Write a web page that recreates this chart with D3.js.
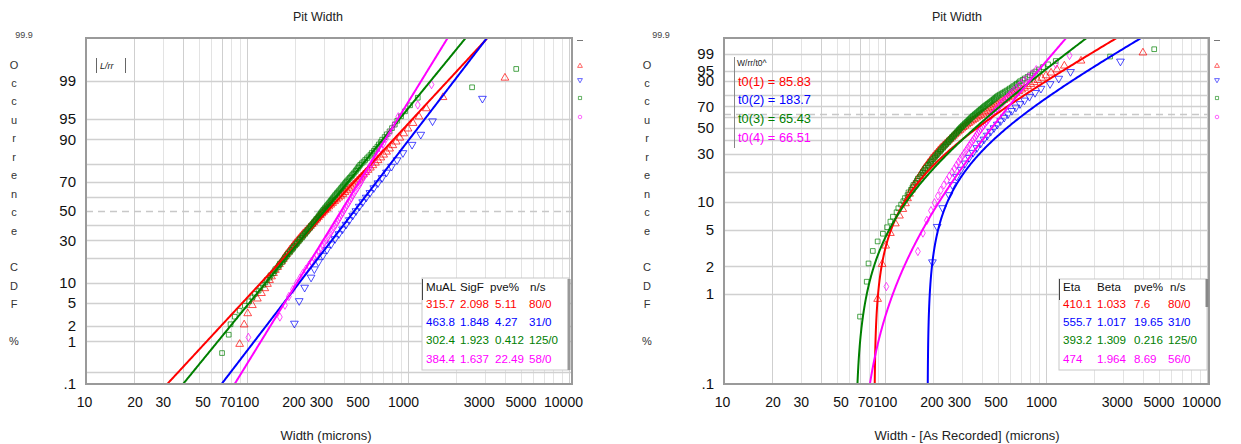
<!DOCTYPE html>
<html><head><meta charset="utf-8">
<script src="https://cdn.jsdelivr.net/npm/d3@7"></script>
<style>
html,body{margin:0;padding:0;background:#fff;}
svg{display:block;font-family:"Liberation Sans",Arial,sans-serif;}
</style></head><body>
<svg id="chart" width="1241" height="444"></svg>
<script>
// ---------------- DATA ----------------
const seriesNames = ["1", "2", "3", "4"];
// pit widths (microns)
const widthsSeries1 = [
  90, 96, 101, 108, 116, 123, 129, 134, 138, 142,
  146, 150, 155, 159, 164, 168, 172, 176, 181, 185,
  190, 194, 199, 204, 209, 214, 219, 224, 230, 236,
  242, 248, 254, 260, 266, 272, 278, 285, 292, 299,
  306, 314, 322, 331, 340, 350, 360, 371, 382, 394,
  406, 418, 431, 444, 457, 470, 484, 498, 513, 529,
  546, 564, 584, 605, 628, 652, 678, 706, 736, 769,
  805, 845, 890, 940, 1000, 1075, 1170, 1300, 1650, 4000
];
const widthsSeries2 = [
  197, 211, 228, 250, 262, 278, 296, 314, 333, 352,
  372, 392, 412, 432, 453, 475, 498, 523, 550, 580,
  613, 650, 690, 735, 790, 855, 930, 1060, 1200, 1420, 2900
];
const widthsSeries3 = [
  70, 77, 79, 84, 90, 97, 103, 108, 112, 118,
  121, 126, 130, 133, 138, 140, 145, 148, 150, 155,
  158, 160, 165, 168, 171, 173, 177, 179, 184, 186,
  190, 193, 195, 199, 203, 205, 209, 212, 214, 219,
  222, 224, 229, 231, 235, 238, 241, 245, 248, 250,
  254, 258, 260, 264, 268, 270, 275, 278, 281, 285,
  288, 291, 295, 298, 303, 306, 311, 314, 319, 323,
  328, 331, 336, 340, 344, 349, 353, 359, 363, 369,
  374, 380, 385, 391, 396, 403, 408, 414, 420, 428,
  435, 443, 450, 458, 465, 474, 480, 489, 496, 505,
  516, 530, 542, 556, 569, 585, 597, 614, 627, 645,
  659, 677, 691, 716, 738, 768, 795, 828, 858, 905,
  958, 1030, 1150, 2500, 4700
];
const widthsSeries4 = [
  102, 160, 172, 182, 193, 203, 213, 222, 232, 242,
  251, 261, 270, 278, 286, 294, 302, 310, 318, 325,
  333, 340, 348, 356, 363, 371, 378, 386, 394, 402,
  410, 419, 428, 437, 446, 455, 465, 476, 487, 498,
  510, 520, 533, 547, 562, 577, 593, 610, 630, 652,
  676, 702, 730, 770, 815, 870, 1150, 1400
];
// lognormal fit (left plot)
const muAL = [315.7, 463.8, 302.4, 384.4];
const sigF = [2.098, 1.848, 1.923, 1.637];
const pveLogn = ["5.11", "4.27", "0.412", "22.49"];
const nsLogn = ["80/0", "31/0", "125/0", "58/0"];
// 3-parameter Weibull fit (right plot)
const etaW = [410.1, 555.7, 393.2, 474];
const betaW = [1.033, 1.017, 1.309, 1.964];
const pveWeib = ["7.6", "19.65", "0.216", "8.69"];
const nsWeib = ["80/0", "31/0", "125/0", "56/0"];
const t0W = [85.83, 183.7, 65.43, 66.51];
const t0Labels = ["85.83", "183.7", "65.43", "66.51"];
// axes
const xTickValues = [10, 20, 30, 50, 70, 100, 200, 300, 500, 1000, 3000, 5000, 10000];
const yTickValues = [0.1, 1, 2, 5, 10, 30, 50, 70, 90, 95, 99];
const yTickLabels = [".1", "1", "2", "5", "10", "30", "50", "70", "90", "95", "99"];
const gridLn = [0.2, 1, 2, 5, 10, 20, 30, 40, 60, 70, 80, 90, 95, 99];
const gridWb = [1, 2, 5, 10, 20, 30, 40, 50, 60, 70, 80, 90, 95, 99];

// ---------------- STYLE ----------------
const colors = ["#ff0000", "#0000ff", "#008000", "#ff00ff"];
const allData = [widthsSeries1, widthsSeries2, widthsSeries3, widthsSeries4];

function probit(p) {
  const a = [-3.969683028665376e+01, 2.209460984245205e+02, -2.759285104469687e+02, 1.383577518672690e+02, -3.066479806614716e+01, 2.506628277459239e+00];
  const b = [-5.447609879822406e+01, 1.615858368580409e+02, -1.556989798598866e+02, 6.680131188771972e+01, -1.328068155288572e+01];
  const c = [-7.784894002430293e-03, -3.223964580411365e-01, -2.400758277161838e+00, -2.549732539343734e+00, 4.374664141464968e+00, 2.938163982698783e+00];
  const d = [7.784695709041462e-03, 3.224671290700398e-01, 2.445134137142996e+00, 3.754408661907416e+00];
  const pl = 0.02425, ph = 1 - pl;
  let q, r;
  if (p < pl) { q = Math.sqrt(-2 * Math.log(p)); return (((((c[0]*q+c[1])*q+c[2])*q+c[3])*q+c[4])*q+c[5]) / ((((d[0]*q+d[1])*q+d[2])*q+d[3])*q+1); }
  if (p <= ph) { q = p - 0.5; r = q*q; return (((((a[0]*r+a[1])*r+a[2])*r+a[3])*r+a[4])*r+a[5])*q / (((((b[0]*r+b[1])*r+b[2])*r+b[3])*r+b[4])*r+1); }
  q = Math.sqrt(-2 * Math.log(1 - p));
  return -(((((c[0]*q+c[1])*q+c[2])*q+c[3])*q+c[4])*q+c[5]) / ((((d[0]*q+d[1])*q+d[2])*q+d[3])*q+1);
}
const weib = p => Math.log(-Math.log(1 - p));

const svg = d3.select("#chart");
const TOP = 38, BOT = 384;
const FONT = '"Liberation Sans", Arial, sans-serif';
const nudge = {50: 4, 70: 5, 200: -2, 300: -3, 500: -2, 1000: -5, 3000: -6, 10000: -6, 10: -2};
const LEG = 11.6;

const panels = [
  {x0: 86, x1: 569, frameR: 572, kind: "ln", titleX: 318, xTitle: "Width (microns)", xTitleX: 326, letterX: 14, p999X: 24},
  {x0: 724, x1: 1207, frameR: 1209, kind: "wb", titleX: 957, xTitle: "Width - [As Recorded] (microns)", xTitleX: 967, letterX: 647, p999X: 661}
];

const symbols = [
  d3.symbol().type(d3.symbolTriangle).size(26),
  d3.symbol().type(d3.symbolTriangle).size(26),
  d3.symbol().type(d3.symbolSquare).size(22),
  d3.symbol().type(d3.symbolDiamond).size(20)
];

panels.forEach((P, pi) => {
  const g = svg.append("g");
  const x = d3.scaleLog().domain([10, 10000]).range([P.x0, P.x1]);
  const tf = P.kind === "ln" ? probit : weib;
  const y = d3.scaleLinear().domain([tf(0.001), tf(0.999)]).range([BOT, TOP]);
  const yp = p => y(tf(p));
  const clipId = "clip" + pi;
  svg.append("clipPath").attr("id", clipId).append("rect")
    .attr("x", P.x0).attr("y", TOP).attr("width", P.frameR - P.x0).attr("height", BOT - TOP);

  // vertical grid
  const vg = [];
  [10, 100, 1000].forEach(k => { for (let m = 1; m < 10; m++) { const v = m * k; if (v > 10) vg.push(v); } });
  vg.push(10000);
  g.append("g").selectAll("line").data(vg).join("line")
    .attr("x1", d => Math.round(x(d)) + 0.5).attr("x2", d => Math.round(x(d)) + 0.5)
    .attr("y1", TOP).attr("y2", BOT)
    .attr("stroke", d => [20, 40, 70, 100, 1000, 10000].includes(d) ? "#cfcfcf" : "#e3e3e3").attr("stroke-width", 1);

  // horizontal grid
  const hg = P.kind === "ln" ? gridLn : gridWb;
  g.append("g").selectAll("line").data(hg).join("line")
    .attr("x1", P.x0).attr("x2", P.frameR)
    .attr("y1", d => Math.round(yp(d / 100)) + 0.5).attr("y2", d => Math.round(yp(d / 100)) + 0.5)
    .attr("stroke", "#d0d0d0").attr("stroke-width", 1.3);
  // dashed reference line (median / characteristic life)
  const refP = P.kind === "ln" ? 0.5 : 1 - Math.exp(-1);
  g.append("line").attr("x1", P.x0).attr("x2", P.frameR)
    .attr("y1", Math.round(yp(refP)) + 0.5).attr("y2", Math.round(yp(refP)) + 0.5)
    .attr("stroke", "#c8c8c8").attr("stroke-width", 1.5).attr("stroke-dasharray", "7,5");

  const plot = g.append("g").attr("clip-path", `url(#${clipId})`);

  // points (median ranks)
  allData.forEach((arr, si) => {
    const s = arr.slice().sort((a, b) => a - b), n = s.length;
    plot.append("g").selectAll("path").data(s).join("path")
      .attr("d", symbols[si])
      .attr("transform", (v, i) => `translate(${x(v)},${yp((i + 1 - 0.3) / (n + 0.4))})${si === 1 ? " rotate(180)" : ""}`)
      .attr("fill", "none").attr("stroke", colors[si]).attr("stroke-width", 1).attr("stroke-opacity", 0.7);
  });

  // fitted lines
  const wGrid = d3.range(0, 301).map(k => tf(0.001) + (tf(0.999) - tf(0.001)) * k / 300);
  const line = d3.line().x(d => x(d[0])).y(d => y(d[1]));
  [0, 1, 2, 3].forEach(si => {
    let pts;
    if (P.kind === "ln") {
      const s = Math.log(sigF[si]);
      pts = wGrid.map(z => [muAL[si] * Math.exp(s * z), z]);
    } else {
      pts = wGrid.map(w => [t0W[si] + etaW[si] * Math.pow(Math.exp(w), 1 / betaW[si]), w]);
    }
    plot.append("path").attr("d", line(pts)).attr("fill", "none")
      .attr("stroke", colors[si]).attr("stroke-width", 2);
  });

  // frame
  g.append("rect").attr("x", P.x0).attr("y", TOP).attr("width", P.frameR - P.x0).attr("height", BOT - TOP)
    .attr("fill", "none").attr("stroke", "#9a9a9a").attr("stroke-width", 2);

  // x axis
  const xa = g.append("g").attr("transform", `translate(0,${BOT})`)
    .call(d3.axisBottom(x).tickValues(xTickValues).tickFormat(d3.format("d")).tickSize(0).tickPadding(13));
  xa.select(".domain").remove();
  xa.attr("font-family", FONT).attr("font-size", 14);
  xa.selectAll("text").attr("fill", "#111").attr("dx", d => nudge[d] || 0);

  // y axis
  const ya = g.append("g").attr("transform", `translate(${P.x0},0)`)
    .call(d3.axisLeft(y).tickValues(yTickValues.map(p => tf(p / 100))).tickFormat((d, i) => yTickLabels[i]).tickSize(0).tickPadding(10));
  ya.select(".domain").remove();
  ya.attr("font-family", FONT).attr("font-size", 15);
  ya.selectAll("text").attr("fill", "#111");

  // 99.9 label
  g.append("text").attr("x", P.p999X).attr("y", 38).attr("text-anchor", "middle")
    .attr("font-size", 9).attr("fill", "#444").text("99.9");

  // title
  g.append("text").attr("x", P.titleX).attr("y", 21).attr("text-anchor", "middle")
    .attr("font-size", 12.5).attr("fill", "#222").text("Pit Width");
  // x title
  g.append("text").attr("x", P.xTitleX).attr("y", 440).attr("text-anchor", "middle")
    .attr("font-size", 13).attr("fill", "#222").text(P.xTitle);

  // vertical stacked y title
  const letters = ["O", "c", "c", "u", "r", "r", "e", "n", "c", "e", "", "C", "D", "F", "", "%"];
  g.append("g").selectAll("text").data(letters).join("text")
    .attr("x", P.letterX).attr("y", (d, i) => 64.5 + i * 18.45 + 4).attr("text-anchor", "middle")
    .attr("font-size", 11).attr("fill", "#333").text(d => d);

  // tiny series markers beside frame
  const mx = P.frameR + 8;
  g.append("line").attr("x1", mx - 3).attr("x2", mx + 3).attr("y1", 40.5).attr("y2", 40.5).attr("stroke", "#777");
  [66, 80, 98, 117].forEach((yy, si) => {
    g.append("path").attr("d", d3.symbol().type(si === 2 ? d3.symbolSquare : si === 3 ? d3.symbolCircle : d3.symbolTriangle).size(10))
      .attr("transform", `translate(${mx},${yy})${si === 1 ? " rotate(180)" : ""}`)
      .attr("fill", "none").attr("stroke", colors[si]).attr("stroke-opacity", 0.6);
  });

  // legend box
  const lb = g.append("g");
  if (P.kind === "ln") {
    lb.append("rect").attr("x", 422).attr("y", 278).attr("width", 147).attr("height", 92)
      .attr("fill", "#fff").attr("stroke", "#c8c8c8");
    lb.append("line").attr("x1", 422.5).attr("x2", 422.5).attr("y1", 279).attr("y2", 300).attr("stroke", "#444");
    lb.append("line").attr("x1", 569).attr("x2", 569).attr("y1", 279).attr("y2", 370).attr("stroke", "#999").attr("stroke-width", 3);
    const hdr = [["MuAL", 426], ["SigF", 460], ["pve%", 490], ["n/s", 530]];
    hdr.forEach(h => lb.append("text").attr("x", h[1]).attr("y", 291).attr("font-size", LEG).attr("fill", "#111").text(h[0]));
    [0, 1, 2, 3].forEach(si => {
      const yy = 307.5 + si * 18.4;
      const cols = [[d3.format(".1f")(muAL[si]), 426], [d3.format(".3f")(sigF[si]), 460], [pveLogn[si], 495], [nsLogn[si], 529]];
      cols.forEach(c => lb.append("text").attr("x", c[1]).attr("y", yy).attr("font-size", LEG).attr("fill", colors[si]).text(c[0]));
    });
    // L/rr tag
    lb.append("line").attr("x1", 96.5).attr("x2", 96.5).attr("y1", 58).attr("y2", 73).attr("stroke", "#666");
    lb.append("line").attr("x1", 125.5).attr("x2", 125.5).attr("y1", 58).attr("y2", 73).attr("stroke", "#666");
    lb.append("text").attr("x", 100).attr("y", 68.5).attr("font-size", 9).attr("font-style", "italic").attr("fill", "#222").text("L/rr");
  } else {
    lb.append("rect").attr("x", 1059).attr("y", 279).attr("width", 148).attr("height", 91)
      .attr("fill", "#fff").attr("stroke", "#c8c8c8");
    lb.append("line").attr("x1", 1059.5).attr("x2", 1059.5).attr("y1", 279).attr("y2", 300).attr("stroke", "#444");
    lb.append("line").attr("x1", 1207).attr("x2", 1207).attr("y1", 279).attr("y2", 307).attr("stroke", "#888").attr("stroke-width", 3);
    const hdr = [["Eta", 1063], ["Beta", 1097], ["pve%", 1134], ["n/s", 1170]];
    hdr.forEach(h => lb.append("text").attr("x", h[1]).attr("y", 291).attr("font-size", LEG).attr("fill", "#111").text(h[0]));
    [0, 1, 2, 3].forEach(si => {
      const yy = 307.5 + si * 18.4;
      const cols = [[String(etaW[si]), 1063], [d3.format(".3f")(betaW[si]), 1097], [pveWeib[si], 1134], [nsWeib[si], 1168]];
      cols.forEach(c => lb.append("text").attr("x", c[1]).attr("y", yy).attr("font-size", LEG).attr("fill", colors[si]).text(c[0]));
    });
    // t0 box
    lb.append("line").attr("x1", 734.5).attr("x2", 734.5).attr("y1", 57).attr("y2", 148).attr("stroke", "#888");
    lb.append("text").attr("x", 737).attr("y", 66).attr("font-size", 8.5).attr("fill", "#222").text("W/rr/t0^");
    [0, 1, 2, 3].forEach(si => {
      lb.append("text").attr("x", 738).attr("y", 85.5 + si * 18.7).attr("font-size", 12.8).attr("fill", colors[si])
        .text(`t0(${si + 1}) = ${t0Labels[si]}`);
    });
  }
});
</script>
</body></html>
